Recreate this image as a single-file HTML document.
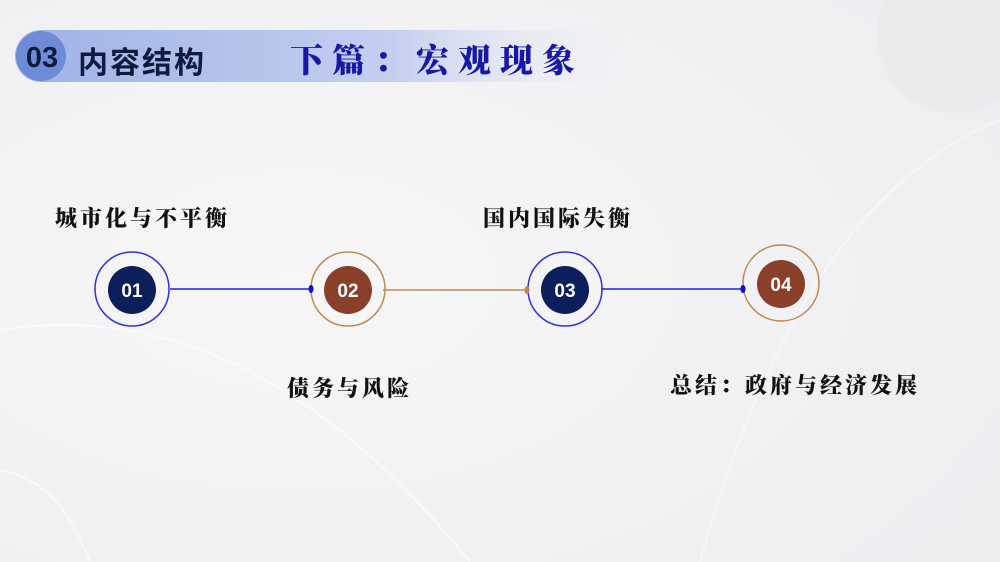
<!DOCTYPE html>
<html><head><meta charset="utf-8"><style>
body{margin:0;width:1000px;height:562px;overflow:hidden;position:relative;background:#f3f3f5;font-family:"Liberation Sans","Noto Sans CJK SC",sans-serif}
.t{position:absolute;font-family:"Liberation Serif","Noto Serif CJK SC",serif;font-weight:900;font-size:22px;color:#111;letter-spacing:3px;white-space:nowrap}
</style></head><body>
<svg width="1000" height="562" style="position:absolute;left:0;top:0">
<defs>
<linearGradient id="hb" x1="0" x2="1"><stop offset="0" stop-color="#9fb2e6"/><stop offset="0.6" stop-color="#c4cff0"/><stop offset="1" stop-color="#f3f3f5" stop-opacity="0"/></linearGradient>
<radialGradient id="bg" cx="0.3" cy="0.5" r="0.8"><stop offset="0" stop-color="#f7f7f8"/><stop offset="1" stop-color="#eeeef1"/></radialGradient>
</defs>
<rect width="1000" height="562" fill="url(#bg)"/>
<circle cx="955" cy="35" r="78" fill="#ebebee"/>
<path d="M0 330 Q250 290 470 562" stroke="#fff" stroke-width="2" fill="none" opacity="0.5"/>
<path d="M0 470 Q60 480 90 562" stroke="#fff" stroke-width="2" fill="none" opacity="0.5"/>
<path d="M700 562 Q800 200 1000 120" stroke="#fff" stroke-width="2" fill="none" opacity="0.4"/>
<rect x="15" y="30" width="630" height="52" rx="26" fill="url(#hb)"/>
<circle cx="41" cy="56" r="25" fill="#6f8ad6"/>
<g fill="none" stroke-width="1.5">
<line x1="170" y1="289" x2="311" y2="289" stroke="#2020e0"/>
<line x1="383" y1="290" x2="527" y2="290" stroke="#c08850"/>
<line x1="601" y1="289" x2="743" y2="289" stroke="#2020e0"/>
<circle cx="132" cy="289" r="37" stroke="#3030e0"/>
<circle cx="348" cy="289" r="37" stroke="#c08850"/>
<circle cx="565" cy="289" r="37" stroke="#3030e0"/>
<circle cx="781" cy="283" r="38" stroke="#c08850"/>
</g>
<ellipse cx="311" cy="289" rx="2.5" ry="4" fill="#1010d0"/>
<ellipse cx="527" cy="290" rx="2.5" ry="4" fill="#c08850"/>
<ellipse cx="743" cy="289" rx="2.5" ry="4" fill="#1010d0"/>
<circle cx="132" cy="290" r="24" fill="#0c1e5c"/>
<circle cx="348" cy="290" r="24" fill="#8a3f2a"/>
<circle cx="565" cy="290" r="24" fill="#0c1e5c"/>
<circle cx="781" cy="284" r="24" fill="#8a3f2a"/>
<g fill="#fff" font-family="Liberation Sans" font-weight="bold" font-size="19" text-anchor="middle">
<text x="132" y="297">01</text><text x="348" y="297">02</text><text x="565" y="297">03</text><text x="781" y="291">04</text>
</g>
<text x="42" y="67" fill="#0f1a40" font-family="Liberation Sans" font-weight="bold" font-size="29" text-anchor="middle">03</text>
</svg>
<div style="position:absolute;left:78px;top:38px;font-size:30px;color:#0f1a40;font-weight:bold;letter-spacing:2px">内容结构</div>
<div style="position:absolute;left:290px;top:35px;font-size:33px;color:#1818a8;font-weight:900;letter-spacing:9px;font-family:'Liberation Serif','Noto Serif CJK SC',serif">下篇：宏观现象</div>
<div class="t" style="left:55px;top:202px">城市化与不平衡</div>
<div class="t" style="left:483px;top:202px">国内国际失衡</div>
<div class="t" style="left:287px;top:372px">债务与风险</div>
<div class="t" style="left:670px;top:369px">总结：政府与经济发展</div>
</body></html>
